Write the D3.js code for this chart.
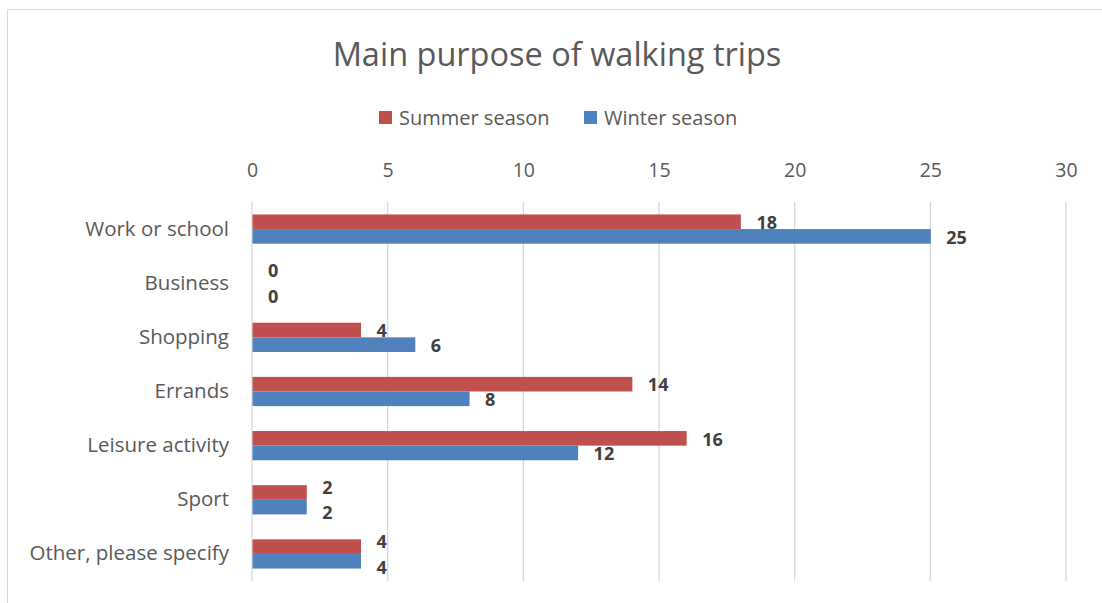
<!DOCTYPE html>
<html><head><meta charset="utf-8">
<script src="https://cdn.jsdelivr.net/npm/d3@7"></script>
<style>body{margin:0;background:#fff}svg{display:block;font-family:"Open Sans",sans-serif}</style>
</head><body><svg id="c" width="1102" height="603"></svg>
<script>
const categories = ["Work or school","Business","Shopping","Errands","Leisure activity","Sport","Other, please specify"];
const summer = [18,0,4,14,16,2,4];
const winter = [25,0,6,8,12,2,4];
const seriesNames = ["Summer season","Winter season"];
const ticks = [0,5,10,15,20,25,30];
const colors = ["#C0504D","#4F81BD"];

const svg = d3.select("#c");
svg.append("rect").attr("x",7.5).attr("y",9.5).attr("width",1110).attr("height",620)
  .attr("fill","#fff").attr("stroke","#d9d9d9");

const x = d3.scaleLinear().domain([0,30]).range([252,1066]);
const y = d3.scaleBand().domain(categories).range([202,581]).paddingInner(0.46).paddingOuter(0.23);
const y1 = d3.scaleBand().domain(seriesNames).range([0,y.bandwidth()]);

svg.append("text").attr("x",557).attr("y",66).attr("text-anchor","middle")
  .attr("font-size",32.5).attr("fill","#595959").text("Main purpose of walking trips");

// gridlines
svg.append("g").selectAll("line").data(ticks).join("line")
  .attr("x1",d=>x(d)).attr("x2",d=>x(d)).attr("y1",202).attr("y2",581)
  .attr("stroke","#d9d9d9").attr("stroke-width",1.3);

// top axis
const ax = svg.append("g").attr("transform","translate(0,177)")
  .call(d3.axisTop(x).tickValues(ticks).tickSize(0).tickPadding(0));
ax.select(".domain").remove();
ax.selectAll("text").attr("font-size",19.5).attr("fill","#595959").attr("font-family","Open Sans").attr("dy","0");

// category axis
const ay = svg.append("g").attr("transform","translate(229,0)")
  .call(d3.axisLeft(y).tickSize(0).tickPadding(0));
ay.select(".domain").remove();
ay.selectAll("text").attr("font-size",20.5).attr("fill","#595959").attr("font-family","Open Sans").attr("dy","0.32em");

const data = categories.map((c,i)=>({c, vals:[summer[i],winter[i]]}));
const g = svg.append("g");
data.forEach(d=>{
  const close = Math.abs(x(d.vals[0])-x(d.vals[1])) < 30;
  d.vals.forEach((v,j)=>{
    const yy = y(d.c)+y1(seriesNames[j]);
    g.append("rect").attr("x",x(0)+0.5).attr("y",yy).attr("width",Math.max(0,x(v)-x(0)))
      .attr("height",y1.bandwidth()).attr("fill",colors[j]);
    const off = close ? (j===0?-5:6) : 1;
    g.append("text").attr("x",x(v)+16).attr("y",yy+y1.bandwidth()/2+off)
      .attr("dy","0.35em").attr("font-size",18).attr("font-weight","bold").attr("fill","#404040")
      .text(v);
  });
});

// legend
const leg = svg.append("g");
const lx = [379,584];
seriesNames.forEach((s,i)=>{
  leg.append("rect").attr("x",lx[i]).attr("y",111).attr("width",13).attr("height",13).attr("fill",colors[i]);
  leg.append("text").attr("x",lx[i]+20).attr("y",117.5).attr("dy","0.35em").attr("font-size",20)
    .attr("fill","#595959").text(s);
});
</script></body></html>
